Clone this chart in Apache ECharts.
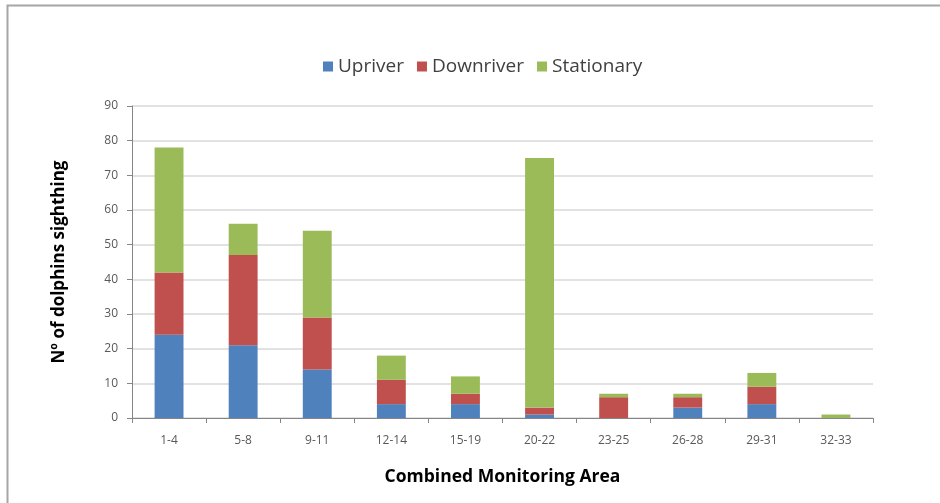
<!DOCTYPE html>
<html>
<head>
<meta charset="utf-8">
<script src="https://cdn.jsdelivr.net/npm/echarts@6/dist/echarts.min.js"></script>
<style>
  html, body { margin: 0; padding: 0; background: #fff; }
  #chart { width: 940px; height: 503px; }
</style>
</head>
<body>
<div id="chart"></div>
<script>
// Dolphin sightings per combined monitoring area, split by movement
const areas = ['1-4', '5-8', '9-11', '12-14', '15-19', '20-22', '23-25', '26-28', '29-31', '32-33'];
const upriver    = [24, 21, 14, 4, 4, 1, 0, 3, 4, 0];
const downriver  = [18, 26, 15, 7, 3, 2, 6, 3, 5, 0];
const stationary = [36, 9, 25, 7, 5, 72, 1, 1, 4, 1];
const yTicks = { min: 0, max: 90, interval: 10 };

const chart = echarts.init(document.getElementById('chart'));
const font = '"Open Sans", "Liberation Sans", sans-serif';

function bar(name, data, color) {
  return {
    name, type: 'bar', stack: 'total', data,
    barWidth: '39%',
    itemStyle: { color },
    emphasis: { disabled: true }
  };
}

chart.setOption({
  animation: false,
  graphic: [{
    type: 'rect',
    shape: { x: 7.5, y: 5.5, width: 960, height: 520 },
    style: { fill: 'none', stroke: '#a6a6a6', lineWidth: 2 },
    silent: true
  }],
  legend: {
    top: 52, left: 318,
    itemWidth: 10, itemHeight: 10, itemGap: 13,
    icon: 'rect',
    textStyle: { fontFamily: font, fontSize: 19, color: '#404040' },
    data: ['Upriver', 'Downriver', 'Stationary']
  },
  grid: { left: 132, right: 67, top: 106, bottom: 85 },
  xAxis: {
    type: 'category', data: areas,
    name: 'Combined Monitoring Area',
    nameLocation: 'middle', nameGap: 50,
    nameTextStyle: { fontFamily: font, fontSize: 17.5, fontWeight: 'bold', color: '#000' },
    axisLine: { lineStyle: { color: '#868686' } },
    axisTick: { show: true, length: 5, lineStyle: { color: '#868686' } },
    axisLabel: { fontFamily: font, fontSize: 12, color: '#595959', margin: 17 }
  },
  yAxis: {
    type: 'value', min: yTicks.min, max: yTicks.max, interval: yTicks.interval,
    name: 'Nº of dolphins sighthing',
    nameLocation: 'middle', nameGap: 64, nameRotate: 90,
    nameTextStyle: { fontFamily: font, fontSize: 17, fontWeight: 'bold', color: '#000' },
    axisLine: { show: true, lineStyle: { color: '#868686' } },
    axisTick: { show: true, length: 5, lineStyle: { color: '#868686' } },
    axisLabel: { fontFamily: font, fontSize: 12, color: '#595959', margin: 14 },
    splitLine: { lineStyle: { color: '#d9d9d9', width: 1.5 } }
  },
  series: [
    bar('Upriver', upriver, '#4f81bd'),
    bar('Downriver', downriver, '#c0504d'),
    bar('Stationary', stationary, '#9bbb59')
  ]
});
</script>
</body>
</html>
